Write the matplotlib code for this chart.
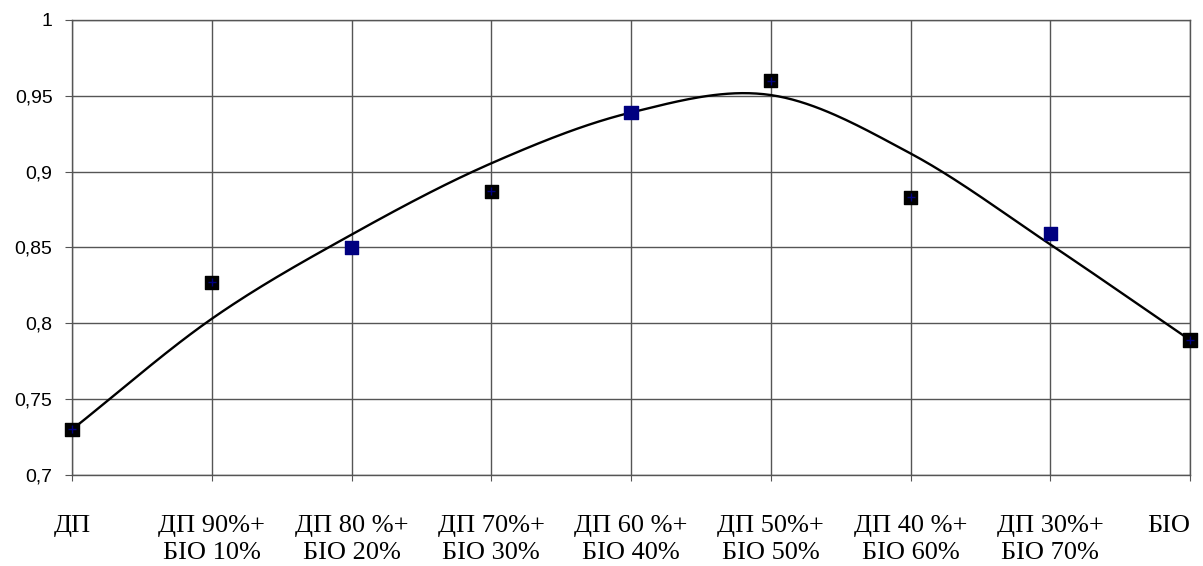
import numpy as np
import matplotlib.pyplot as plt

# categories and measured values
labels = ['ДП', 'ДП 90%+\nБІО 10%', 'ДП 80 %+\nБІО 20%', 'ДП 70%+\nБІО 30%',
          'ДП 60 %+\nБІО 40%', 'ДП 50%+\nБІО 50%', 'ДП 40 %+\nБІО 60%',
          'ДП 30%+\nБІО 70%', 'БІО']
values = [0.730, 0.827, 0.850, 0.887, 0.939, 0.960, 0.883, 0.859, 0.789]
# trend series (smoothed line)
trend = [0.730, 0.803, 0.8585, 0.9055, 0.939, 0.9505, 0.912, 0.852, 0.789]
yticks = [0.7, 0.75, 0.8, 0.85, 0.9, 0.95, 1.0]
ytick_labels = ['0,7', '0,75', '0,8', '0,85', '0,9', '0,95', '1']

x = np.arange(len(values))


# smoothed line like Excel's (Catmull-Rom through the trend points)
def smooth_line(xp, yp, n=40):
    yp = np.asarray(yp, dtype=float)
    m = np.gradient(yp)
    xs, ys = [], []
    for i in range(len(yp) - 1):
        t = np.linspace(0, 1, n)
        h00 = 2*t**3 - 3*t**2 + 1
        h10 = t**3 - 2*t**2 + t
        h01 = -2*t**3 + 3*t**2
        h11 = t**3 - t**2
        xs.append(xp[i] + t)
        ys.append(h00*yp[i] + h10*m[i] + h01*yp[i+1] + h11*m[i+1])
    return np.concatenate(xs), np.concatenate(ys)


fig = plt.figure(figsize=(12.03, 5.66), dpi=100)
ax = fig.add_axes([0.0599, 0.1608, 0.9293, 0.8039])

xs, ys = smooth_line(x, trend)
ax.plot(xs, ys, color='black', lw=1.7, zorder=3)

navy = '#000080'
marker_cols = [navy if i in (2, 4, 7) else 'black' for i in range(len(values))]
ax.scatter(x, values, marker='s', s=90, c=marker_cols, zorder=4, clip_on=False)
dark = [i for i in range(len(values)) if marker_cols[i] == 'black']
ax.scatter(x[dark], np.array(values)[dark], marker='+', s=30, c=navy,
           linewidths=1, zorder=5, clip_on=False)

ax.set_xlim(0, len(values) - 1)
ax.set_ylim(0.7, 1.0)
ax.set_yticks(yticks)
ax.set_yticklabels(ytick_labels, fontfamily='Liberation Sans', fontsize=14)
ax.set_xticks(x)
ax.set_xticklabels(labels, fontfamily='Liberation Serif', fontsize=19,
                   linespacing=1.25)
ax.get_xticklabels()[-1].set_ha('right')
ax.tick_params(axis='y', length=5, pad=9, color='#555555')
ax.tick_params(axis='x', length=4, pad=25, color='#555555')
ax.grid(True, color='#555555', lw=1)
for s in ax.spines.values():
    s.set_color('#555555')
    s.set_linewidth(1)

fig.savefig('out.png', dpi=100)
